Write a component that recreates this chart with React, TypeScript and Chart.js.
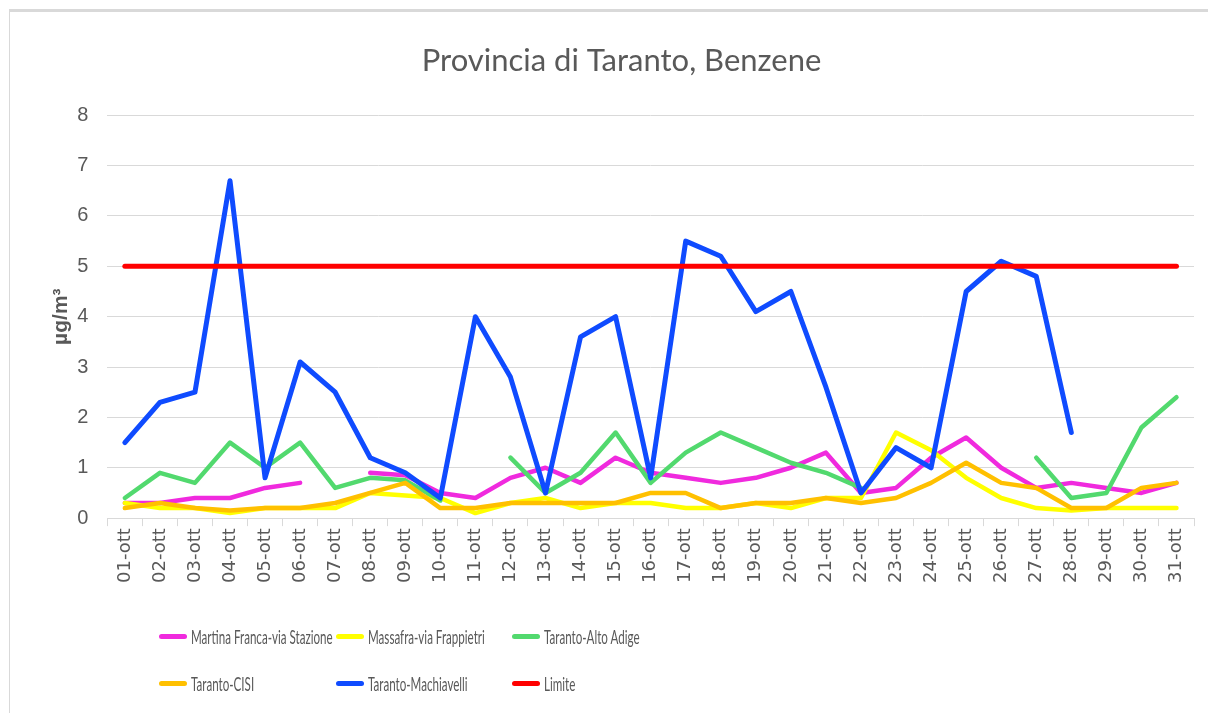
import React, { useEffect, useRef } from "react";
import { Chart, registerables } from "chart.js";

Chart.register(...registerables);

const days = [
  "01-ott", "02-ott", "03-ott", "04-ott", "05-ott", "06-ott", "07-ott", "08-ott",
  "09-ott", "10-ott", "11-ott", "12-ott", "13-ott", "14-ott", "15-ott", "16-ott",
  "17-ott", "18-ott", "19-ott", "20-ott", "21-ott", "22-ott", "23-ott", "24-ott",
  "25-ott", "26-ott", "27-ott", "28-ott", "29-ott", "30-ott", "31-ott",
];

const martinaFranca = [0.3, 0.3, 0.4, 0.4, 0.6, 0.7, null, 0.9, 0.85, 0.5, 0.4, 0.8, 1.0, 0.7, 1.2, 0.9, 0.8, 0.7, 0.8, 1.0, 1.3, 0.5, 0.6, 1.2, 1.6, 1.0, 0.6, 0.7, 0.6, 0.5, 0.7];
const massafra = [0.3, 0.2, 0.2, 0.1, 0.2, 0.2, 0.2, 0.5, 0.45, 0.4, 0.1, 0.3, 0.4, 0.2, 0.3, 0.3, 0.2, 0.2, 0.3, 0.2, 0.4, 0.4, 1.7, 1.35, 0.8, 0.4, 0.2, 0.15, 0.2, 0.2, 0.2];
const altoAdige = [0.4, 0.9, 0.7, 1.5, 1.0, 1.5, 0.6, 0.8, 0.75, 0.35, null, 1.2, 0.5, 0.9, 1.7, 0.7, 1.3, 1.7, 1.4, 1.1, 0.9, 0.6, null, null, null, null, 1.2, 0.4, 0.5, 1.8, 2.4];
const cisi = [0.2, 0.3, 0.2, 0.15, 0.2, 0.2, 0.3, 0.5, 0.7, 0.2, 0.2, 0.3, 0.3, 0.3, 0.3, 0.5, 0.5, 0.2, 0.3, 0.3, 0.4, 0.3, 0.4, 0.7, 1.1, 0.7, 0.6, 0.2, 0.2, 0.6, 0.7];
const machiavelli = [1.5, 2.3, 2.5, 6.7, 0.8, 3.1, 2.5, 1.2, 0.9, 0.4, 4.0, 2.8, 0.5, 3.6, 4.0, 0.8, 5.5, 5.2, 4.1, 4.5, 2.6, 0.5, 1.4, 1.0, 4.5, 5.1, 4.8, 1.7, null, null, null];
const limite = [5, 5, 5, 5, 5, 5, 5, 5, 5, 5, 5, 5, 5, 5, 5, 5, 5, 5, 5, 5, 5, 5, 5, 5, 5, 5, 5, 5, 5, 5, 5];

const seriesNames = [
  "Martina Franca-via Stazione",
  "Massafra-via Frappietri",
  "Taranto-Alto Adige",
  "Taranto-CISI",
  "Taranto-Machiavelli",
  "Limite",
];
const seriesColors = ["#F02ADE", "#FFFF00", "#52D96E", "#FFC000", "#0F4BFF", "#FF0000"];
const seriesWidths = [4.5, 4.5, 4.5, 4.5, 5, 5];
const seriesData = [martinaFranca, massafra, altoAdige, cisi, machiavelli, limite];

const TEXT = "#595959";
const GRID = "#d9d9d9";

export default function App() {
  const ref = useRef<HTMLCanvasElement>(null);

  useEffect(() => {
    const chart = new Chart(ref.current!, {
      type: "line",
      data: {
        labels: days,
        datasets: seriesNames.map((name, i) => ({
          label: name,
          data: seriesData[i],
          borderColor: seriesColors[i],
          backgroundColor: seriesColors[i],
          borderWidth: seriesWidths[i],
          pointRadius: 0,
          spanGaps: false,
          order: seriesNames.length - i,
        })),
      },
      options: {
        responsive: false,
        animation: false,
        layout: { padding: { left: 49, right: 14, top: 0, bottom: 128 } },
        plugins: {
          legend: { display: false },
          tooltip: { enabled: false },
          title: {
            display: true,
            text: "Provincia di Taranto, Benzene",
            color: TEXT,
            font: { family: "Lato", size: 31, weight: "normal" },
            padding: { top: 42, bottom: 36 },
          },
        },
        elements: {
          line: { tension: 0, borderJoinStyle: "round", borderCapStyle: "round" },
          point: { radius: 0 },
        },
        scales: {
          x: {
            offset: true,
            grid: { offset: true, drawOnChartArea: false, drawTicks: true, tickLength: 8, color: GRID },
            border: { color: GRID },
            ticks: {
              autoSkip: false,
              minRotation: 90,
              maxRotation: 90,
              color: TEXT,
              font: { family: "DejaVu Sans", size: 18 },
              padding: 2,
            },
          },
          y: {
            min: 0,
            max: 8,
            ticks: {
              stepSize: 1,
              color: TEXT,
              font: { family: "Liberation Sans", size: 20 },
              padding: 19,
            },
            grid: { color: GRID, drawTicks: false },
            border: { display: false },
            title: {
              display: true,
              text: "µg/m³",
              color: TEXT,
              font: { family: "Liberation Sans", size: 21, weight: "bold" },
              padding: { top: 0, bottom: -16 },
            },
          },
        },
      },
    });
    return () => chart.destroy();
  }, []);

  const legendCols = [159, 336, 512];
  const legendRows = [636, 683];

  return (
    <div style={{ position: "absolute", left: 0, top: 0, width: 1208, height: 713, background: "#fff" }}>
      <div
        style={{
          position: "absolute",
          left: 9,
          top: 9,
          width: 1199,
          height: 704,
          borderTop: "3px solid " + GRID,
          borderLeft: "1px solid " + GRID,
          boxSizing: "border-box",
        }}
      />
      <canvas ref={ref} width={1208} height={713} style={{ position: "absolute", left: 0, top: 0, display: "block" }} />
      {seriesNames.map((name, i) => {
        const col = i % 3;
        const row = Math.floor(i / 3);
        return (
          <div
            key={name}
            style={{
              position: "absolute",
              left: legendCols[col],
              top: legendRows[row] - 15,
              height: 30,
              display: "flex",
              alignItems: "center",
              whiteSpace: "nowrap",
            }}
          >
            <span style={{ display: "inline-block", width: 28, height: 5, borderRadius: 3, background: seriesColors[i] }} />
            <span
              style={{
                display: "inline-block",
                marginLeft: 4,
                fontFamily: "Lato, sans-serif",
                fontSize: 20,
                color: TEXT,
                transform: "scaleX(0.58)",
                transformOrigin: "left center",
              }}
            >
              {name}
            </span>
          </div>
        );
      })}
    </div>
  );
}
